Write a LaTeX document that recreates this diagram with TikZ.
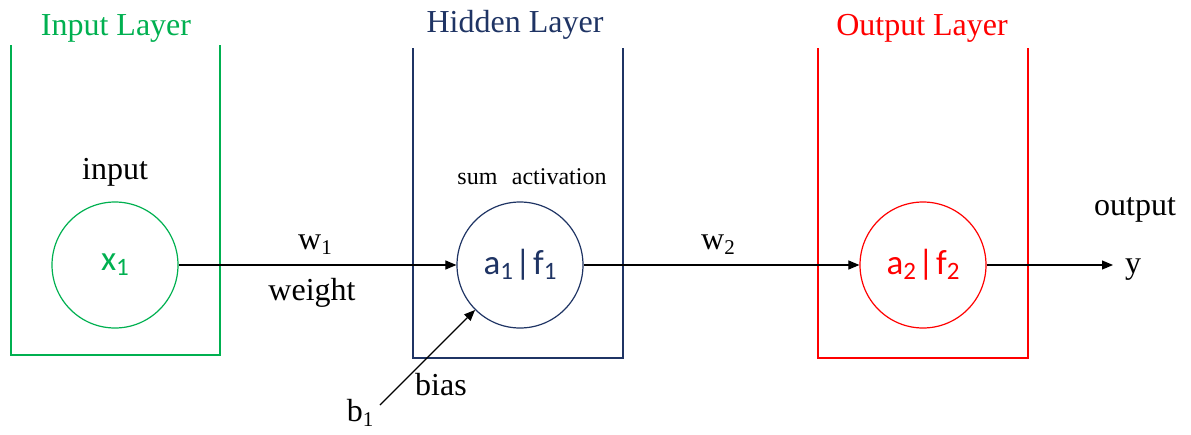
\documentclass[tikz,border=0pt]{standalone}
\usepackage{fontspec}
\setmainfont{Liberation Serif}
\newfontfamily\calfont{Carlito}
\usetikzlibrary{arrows.meta}
\definecolor{ingreen}{RGB}{0,176,80}
\definecolor{hidblue}{RGB}{31,52,100}
\definecolor{outred}{RGB}{255,0,0}
\newcommand\lowsub[1]{\raisebox{-0.32ex}{\fontsize{21}{21}\selectfont #1}}
\newcommand\csub[1]{\raisebox{-0.3ex}{\fontsize{25}{25}\selectfont #1}}
\newcommand\vbar{\kern2pt|\kern2pt}
\tikzset{
  lbl/.style={font=\fontsize{32}{36}\selectfont, inner sep=0pt},
  small/.style={font=\fontsize{24}{28}\selectfont, inner sep=0pt},
  neuron/.style={circle, minimum size=126pt, inner sep=0pt, line width=1.2pt, font=\calfont\fontsize{35}{38}\selectfont},
  layer/.style={line width=1.3pt},
  arr/.style={line width=1.1pt, -{Triangle[length=11pt,width=9pt]}}
}
\begin{document}
\begin{tikzpicture}[x=1pt,y=-1pt]
\useasboundingbox (0,0) rectangle (1191,434);
% layer boxes
\draw[layer, ingreen] (11,45) -- (11,355) -- (220,355) -- (220,45);
\draw[layer, hidblue] (413,48) -- (413,358) -- (623,358) -- (623,48);
\draw[layer, outred] (818,48) -- (818,358) -- (1028,358) -- (1028,48);
% titles
\node[lbl, text=ingreen] (tin) at (116,28) {Input Layer};
\node[lbl, text=hidblue] (thid) at (515,25) {Hidden Layer};
\node[lbl, text=outred] (tout) at (922,28) {Output Layer};
% neurons
\node[neuron, draw=ingreen, text=ingreen] (x) at (115,265) {x\csub{1}};
\node[neuron, draw=hidblue, text=hidblue] (h) at (520,265) {a\csub{1}\vbar f\csub{1}};
\node[neuron, draw=outred, text=outred] (o) at (923,265) {a\csub{2}\vbar f\csub{2}};
% labels
\node[lbl] (inp) at (115,172) {input};
\node[small] (sa) at (532,177) {sum\hspace{0.6em}activation};
\node[lbl] (w1) at (315,245) {w\lowsub{1}};
\node[lbl] (wt) at (312,293) {weight};
\node[lbl] (w2) at (718,245) {w\lowsub{2}};
\node[lbl] (outl) at (1135,210) {output};
\node[lbl, anchor=west] (y) at (1125,270) {y};
\node[lbl] (bias) at (441,385) {bias};
\node[lbl] (b1) at (360,413) {b\lowsub{1}};
\coordinate (bs) at (380,405);
\coordinate (ye) at (1113,265);
% connectors
\draw[arr] (x.east) -- (h.west);
\draw[arr] (h.east) -- (o.west);
\draw[arr] (o.east) -- (ye);
\draw[arr] (bs) -- (h.225);
\end{tikzpicture}
\end{document}
